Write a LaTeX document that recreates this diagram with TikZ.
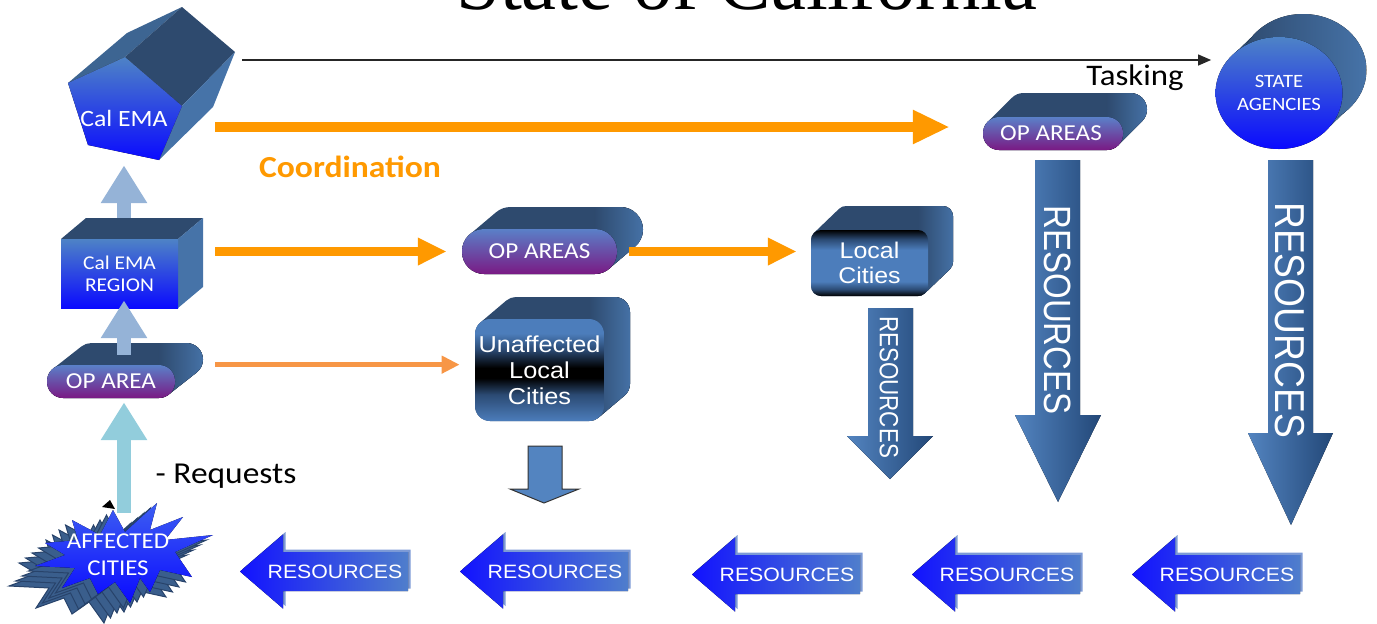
\documentclass[tikz,border=0pt]{standalone}
\usepackage{fontspec}
\usepackage{graphicx}
\setmainfont{Carlito}[FakeStretch=1.1]
\newfontfamily\arialfont{Liberation Sans}[FakeStretch=1.1]
\newfontfamily\arialplain{Liberation Sans}
\newfontfamily\seriffont{Liberation Serif}
\usetikzlibrary{shapes,arrows.meta,positioning,calc}

\definecolor{calblue}{HTML}{4E83C6}
\definecolor{brightblue}{HTML}{0A0AFF}
\definecolor{sidedark}{HTML}{2E4A6E}
\definecolor{sidemid}{HTML}{3D6592}
\definecolor{sidelight}{HTML}{4673A8}
\definecolor{opblue}{HTML}{5A80C8}
\definecolor{oppurple}{HTML}{7A1A84}
\definecolor{cityblue}{HTML}{4C7DBB}
\definecolor{citymid}{HTML}{2B4A73}
\definecolor{orangemain}{HTML}{FF9900}
\definecolor{orangelight}{HTML}{F79646}
\definecolor{arrowpale}{HTML}{95B3D7}
\definecolor{arrowcyan}{HTML}{92CDDC}
\definecolor{resdeep}{HTML}{1212FF}
\definecolor{reslight}{HTML}{4F7ECC}
\definecolor{resrim}{HTML}{7C9AD6}
\definecolor{downleft}{HTML}{5384C0}
\definecolor{downright}{HTML}{234878}
\definecolor{burstdark}{HTML}{3A5E8C}
\definecolor{burstedge}{HTML}{28436A}
\definecolor{burstlight}{HTML}{3D5EF2}

% one pixel of the slide
\newdimen\pix \pix=0.02cm

\pgfdeclareverticalshading{citylocal}{100bp}{color(0bp)=(black); color(25bp)=(black); color(30bp)=(citymid); color(36bp)=(cityblue); color(60bp)=(cityblue); color(68bp)=(citymid); color(75bp)=(black); color(100bp)=(black)}
\pgfdeclareverticalshading{cityunaff}{100bp}{color(0bp)=(cityblue); color(25bp)=(cityblue); color(38bp)=(citymid); color(46bp)=(black); color(51bp)=(black); color(60bp)=(citymid); color(68bp)=(cityblue); color(100bp)=(cityblue)}

\tikzset{
  facelabel/.style={inner sep=0pt, align=center, text=white},
  frontblue/.style={top color=calblue, bottom color=brightblue},
  opface/.style={top color=opblue, bottom color=oppurple},
  sideface/.style={left color=sidedark, right color=sidelight},
  tasking/.style={draw=black!85, line width=0.85pt, -{Triangle[length=7.4pt, width=6.2pt]}},
  coordbig/.style={draw=orangemain, line width=6.1pt, -{Triangle[length=21pt, width=18.1pt]}},
  coordmid/.style={draw=orangemain, line width=4.8pt, -{Triangle[length=16.4pt, width=14.7pt]}},
  coordsmall/.style={draw=orangelight, line width=2.55pt, -{Triangle[length=10.2pt, width=9.6pt]}},
  uparrow/.style={line width=8.5pt, -{Triangle[length=21.5pt, width=25pt]}},
  resface/.style={left color=resdeep, right color=reslight},
  downface/.style={left color=downleft, right color=downright},
  restext/.style={text=white, font=\arialfont\fontsize{11}{13}\selectfont},
}

% back of a rounded slab: front x0,y0,x1,y1 / depth dx,dy / corner
\newcommand{\slab}[7]{%
  \pgfmathsetmacro\slabang{atan2(#5,#6)}%
  \def\slabhull{(#1,{#4-#7}) -- (#1,{#2+#7})
    arc[start angle=180, end angle=180+\slabang, radius=#7] -- ++(#5,-#6)
    arc[start angle=180+\slabang, end angle=270, radius=#7] -- ({#3-#7+#5},{#2-#6})
    arc[start angle=270, end angle=360, radius=#7] -- ({#3+#5},{#4-#7-#6})
    arc[start angle=0, end angle=\slabang, radius=#7] -- ++(-#5,#6)
    arc[start angle=\slabang, end angle=90, radius=#7] -- ({#1+#7},#4)
    arc[start angle=90, end angle=180, radius=#7] -- cycle}%
  \fill[sidedark] \slabhull;
  \begin{scope}
    \clip \slabhull;
    \fill[sideface] ({#3-#7},{#2-#6-2}) rectangle ({#3+#5+2},{#4+2});
  \end{scope}
}

\def\burstpath{(72,520) -- (100,535) -- (113,510) -- (125,532) -- (157,503) -- (150,530) -- (183,517) -- (165,540) -- (213,535) -- (175,552) -- (192,577) -- (160,570) -- (150,592) -- (140,578) -- (130,603) -- (115,582) -- (98,594) -- (90,578) -- (62,588) -- (75,568) -- (35,566) -- (65,555) -- (45,543) -- (78,540) -- cycle}
\def\arrowpath{(0,0) -- (43,-37) -- (43,-19.5) -- (168,-19.5) -- (168,19.5) -- (43,19.5) -- (43,37) -- cycle}

\begin{document}
\begin{tikzpicture}[x=\pix, y=-\pix]
\useasboundingbox (0,0) rectangle (1377,623);
\clip (0,0) rectangle (1377,623);

% heading, mostly above the page
\node[anchor=base, font=\seriffont\fontsize{44.8}{50}\selectfont] (title) at (747,9) {State of California};

% Cal EMA pentagon
\fill[sidemid] (68,83) -- (125,57) -- (182,7) -- (127,33) -- cycle;
\fill[sidedark] (125,57) -- (182,7) -- (235,52) -- (182,106) -- cycle;
\fill[sidelight] (182,106) -- (235,52) -- (213,107) -- (159,160) -- cycle;
\fill[frontblue] (68,83) -- (125,57) -- (182,106) -- (159,160) -- (88,145) -- cycle;
\node[facelabel, minimum width=114*\pix, minimum height=84*\pix, font=\fontsize{13.3}{15}\selectfont] (calema) at (124,118) {Cal EMA};

% Cal EMA region cube
\fill[sidedark] (61,239) -- (86,218) -- (203,218) -- (178,239) -- cycle;
\fill[sidelight] (178,239) -- (203,218) -- (203,287) -- (178,308) -- cycle;
\fill[frontblue] (61,239) rectangle (178,308);
\node[facelabel, minimum width=117*\pix, minimum height=69*\pix, font=\fontsize{11.1}{12.5}\selectfont] (region) at (119.5,273.5) {Cal EMA\\REGION};

% op area pills
\slab{47}{365}{175}{398}{28}{22}{16.5}
\fill[opface, rounded corners=16*\pix] (47,365) rectangle (175,398);
\node[facelabel, minimum width=128*\pix, minimum height=33*\pix, font=\fontsize{13}{15}\selectfont] (oparea) at (111,381.5) {OP AREA};

\slab{462}{229}{617}{274}{26}{22}{22.5}
\fill[opface, rounded corners=22*\pix] (462,229) rectangle (617,274);
\node[facelabel, minimum width=155*\pix, minimum height=45*\pix, font=\fontsize{13}{15}\selectfont] (opmid) at (539.5,251.5) {OP AREAS};

\slab{983}{117}{1123}{150}{24}{24}{16.5}
\fill[opface, rounded corners=16*\pix] (983,117) rectangle (1123,150);
\node[facelabel, minimum width=140*\pix, minimum height=33*\pix, font=\fontsize{13}{15}\selectfont] (opright) at (1051,133.5) {OP AREAS};

% state agencies
\fill[sideface] (1233,55) -- (1257,32) -- (1349,108) -- (1325,131) -- cycle;
\fill[sideface] (1303,70) ellipse [x radius=63.5, y radius=56];
\fill[frontblue] (1279,93) ellipse [x radius=63.5, y radius=56];
\node[facelabel, minimum width=127*\pix, minimum height=112*\pix, font=\fontsize{10.7}{13}\selectfont] (state) at (1279,93) {STATE\\AGENCIES};

% city blocks
\slab{811}{230}{928}{296}{25}{24}{10}
\shade[shading=citylocal, rounded corners=10*\pix] (811,230) rectangle (928,296);
\node[facelabel, minimum width=117*\pix, minimum height=66*\pix, font=\arialfont\fontsize{12.9}{14.2}\selectfont] (local) at (869.5,263) {Local\\Cities};

\slab{475}{319}{604}{421}{26}{22}{15}
\shade[shading=cityunaff, rounded corners=15*\pix] (475,319) rectangle (604,421);
\node[facelabel, minimum width=129*\pix, minimum height=102*\pix, font=\arialfont\fontsize{13.1}{14.7}\selectfont] (unaff) at (539.5,370) {Unaffected\\Local\\Cities};

% resources flowing down
\fill[downface] (868,308) -- (913,308) -- (913,436) -- (933,436) -- (890,479) -- (847,436) -- (868,436) -- cycle;
\node[rotate=-90, text=white, font=\arialplain\fontsize{15}{15}\selectfont] (res-local) at (889,387) {\scalebox{0.85}[1]{RESOURCES}};
\fill[downface] (1035,160) -- (1080,160) -- (1080,415) -- (1101,415) -- (1058,502) -- (1015,415) -- (1035,415) -- cycle;
\node[rotate=-90, text=white, font=\arialplain\fontsize{21.6}{22}\selectfont] (res-op) at (1058,310) {\scalebox{0.87}[1]{RESOURCES}};
\fill[downface] (1268,160) -- (1313,160) -- (1313,433) -- (1333,433) -- (1291,525) -- (1248,433) -- (1268,433) -- cycle;
\node[rotate=-90, text=white, font=\arialplain\fontsize{23.8}{24}\selectfont] (res-state) at (1290,320) {\scalebox{0.89}[1]{RESOURCES}};

\fill[downleft, draw=black!80, line width=1*\pix] (528,446) -- (562,446) -- (562,489) -- (579,489) -- (544,503) -- (510,489) -- (528,489) -- cycle;

% affected cities burst
\foreach \k in {4,3,2,1}
  \filldraw[fill=burstdark, draw=burstedge, line width=1*\pix, shift={(-6.5*\k,5*\k)}] \burstpath;
\fill[top color=burstlight, bottom color=brightblue] \burstpath;
\node[facelabel, minimum width=166*\pix, minimum height=100*\pix, font=\fontsize{12.9}{15.3}\selectfont] (affected) at (118,555) {AFFECTED\\CITIES};
\fill (102,507) -- (110,500) -- (115,509) -- cycle;

% resources back to the cities
\foreach \tx/\ty [count=\i] in {240/571.5, 460/571.5, 692/574.5, 912/574.5, 1132/574.5} {
  \fill[resrim, shift={(\tx+2.5,\ty-2.5)}] \arrowpath;
  \fill[resface, shift={(\tx,\ty)}] \arrowpath;
  \node[restext] (res\i) at (\tx+95,\ty) {RESOURCES};
}

% requests going up
\draw[uparrow, draw=arrowcyan, shorten <=-8*\pix, shorten >=4*\pix] (affected.north -| calema) -- (oparea.south -| calema);
\draw[uparrow, draw=arrowpale, shorten <=10*\pix, shorten >=-8*\pix] (oparea.north -| calema) -- (region.south -| calema);
\draw[uparrow, draw=arrowpale, shorten <=21*\pix, shorten >=5*\pix] (region.north -| calema) -- (calema.south);
\node[anchor=base, font=\fontsize{17.3}{20}\selectfont] (requests) at (226,483) {- Requests};

% coordination and tasking
\coordinate (task-start) at (242,60);
\coordinate (coord-start) at (215,127);
\draw[tasking, shorten >=4*\pix] (task-start) -- (task-start -| state.west);
\node[anchor=base, font=\fontsize{17}{20}\selectfont] (tasking) at (1135,85) {Tasking};
\draw[coordbig, shorten >=31*\pix] (coord-start) -- (coord-start -| opright.west);
\node[font=\bfseries\fontsize{17.4}{20}\selectfont, text=orangemain] (coordination) at (350,167) {Coordination};
\draw[coordmid, shorten <=37*\pix, shorten >=15*\pix] (region.east |- opmid) -- (opmid.west);
\draw[coordmid, shorten <=12*\pix, shorten >=14*\pix] (opmid.east) -- (local.west |- opmid);
\draw[coordsmall, shorten <=40*\pix, shorten >=15*\pix] (oparea.north east) -- (unaff.west |- oparea.north east);
\end{tikzpicture}
\end{document}
